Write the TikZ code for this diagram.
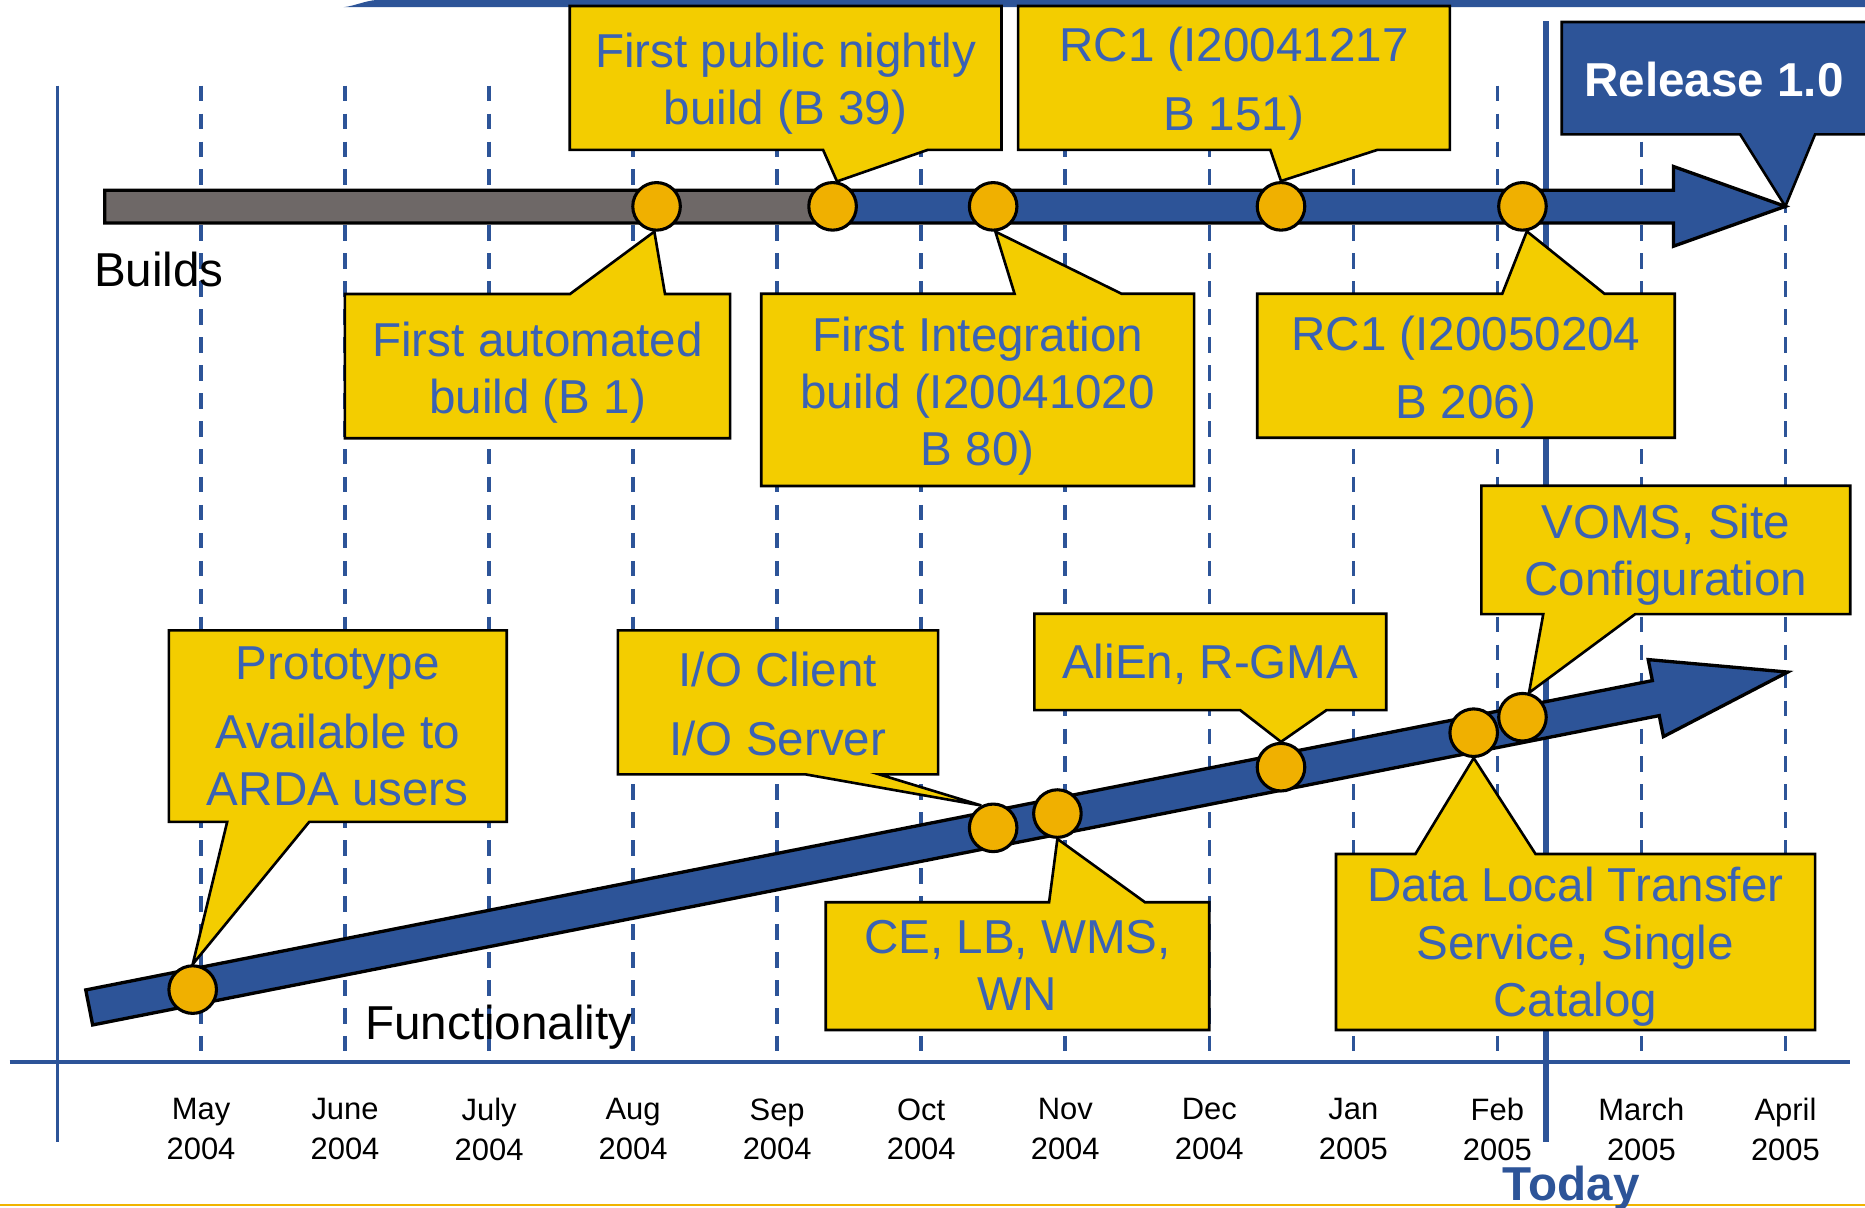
\documentclass[tikz,border=0pt]{standalone}
\usepackage{fontspec}
\setmainfont{Liberation Sans}
\usetikzlibrary{calc}
\pgfdeclarelayer{front}
\pgfsetlayers{main,front}
\definecolor{ablue}{RGB}{45,84,152}
\definecolor{cyel}{RGB}{243,205,0}
\definecolor{corange}{RGB}{240,176,0}
\definecolor{bgray}{RGB}{110,104,103}
\definecolor{tblue}{RGB}{58,98,180}
\definecolor{lineyel}{RGB}{240,180,0}
\begin{document}
\begin{tikzpicture}[x=1pt,y=-1pt,
  gridline/.style={ablue, line width=3pt, dash pattern=on 13pt off 10.5pt},
  callout/.style={fill=cyel, draw=black, line width=2.2pt, line join=miter},
  bluecallout/.style={fill=ablue, draw=black, line width=2.2pt, line join=miter},
  ctext/.style={text=tblue, font=\fontsize{40}{48}\selectfont, align=center, inner sep=0pt},
  dot/.style={circle, fill=corange, draw=black, line width=2.6pt, minimum size=40pt, inner sep=0pt},
  month/.style={font=\fontsize{26}{33.5}\selectfont, align=center, inner sep=0pt},
  bar/.style={draw=black, line width=2.8pt, line join=miter},
  axisline/.style={ablue, line width=2.5pt},
  plain/.style={font=\fontsize{40}{48}\selectfont, inner sep=0pt, anchor=base west},
]
\useasboundingbox (0,0) rectangle (1568,1015);

% ---------- front layer: milestone dots and texts ----------
\begin{pgfonlayer}{front}
\node[dot] (b1) at (552,173.5) {};
\node[dot] (b2) at (700,173.5) {};
\node[dot] (b3) at (835,173.5) {};
\node[dot] (b4) at (1077,173.5) {};
\node[dot] (b5) at (1280,173.5) {};
\node[dot] (f1) at (162,832) {};
\node[dot] (f2) at (835,696) {};
\node[dot] (f3) at (889,684) {};
\node[dot] (f4) at (1077,645) {};
\node[dot] (f5) at (1239,616) {};
\node[dot] (f6) at (1280,603) {};

\node[ctext] (t1) at (660.5,70.6) {First public nightly\\build (B 39)};
\node[ctext] (t2) at (1037.5,70.6) {RC1 (I20041217\\[10pt]B 151)};
\node[font=\bfseries\fontsize{40}{48}\selectfont, text=white, inner sep=0pt] (t3) at (1441,66.9) {Release 1.0};
\node[ctext] (t4) at (452,313) {First automated\\build (B 1)};
\node[ctext] (t5) at (822,333) {First Integration\\build (I20041020\\B 80)};
\node[ctext] (t6) at (1232.5,313) {RC1 (I20050204\\[9pt]B 206)};
\node[ctext] (t7) at (284,611) {Prototype\\[10pt]Available to\\ARDA users};
\node[ctext] (t8) at (654,591.6) {I/O Client\\[10pt]I/O Server};
\node[ctext] (t9) at (1017.5,558.4) {AliEn, R-GMA};
\node[ctext] (t10) at (1400.5,466.7) {VOMS, Site\\Configuration};
\node[ctext] (t11) at (855.5,811.8) {CE, LB, WMS,\\WN};
\node[ctext] (t12) at (1324.5,796) {Data Local Transfer\\Service, Single\\Catalog};

\node[plain] (builds) at (79,241) {Builds};
\node[plain] (func) at (307,874) {Functionality};
\node[font=\bfseries\fontsize{40}{48}\selectfont, text=ablue, inner sep=0pt, anchor=base] (today) at (1321,1009.6) {Today};

\foreach \i/\m/\yr in {0/May/2004,1/June/2004,2/July/2004,3/Aug/2004,4/Sep/2004,5/Oct/2004,6/Nov/2004,7/Dec/2004,8/Jan/2005,9/Feb/2005,10/March/2005,11/April/2005}{
  \node[month] (m\i) at ({169+121.1*\i},949.5) {\m\\\yr};
}
\end{pgfonlayer}

% ---------- background frame ----------
\fill[ablue] (289,6) .. controls (298,5) and (306,1) .. (316,0) -- (1568,0) -- (1568,6) -- cycle;
\draw[lineyel, line width=2pt] (0,1013) -- (1568,1013);

\foreach \i in {0,...,11}{
  \draw[gridline] ({169+121.1*\i},72) -- ({169+121.1*\i},886);
}
\draw[axisline] (48,72) -- (48,960);
\draw[ablue, line width=3.5pt] (8,893) -- (1555,893);
\draw[ablue, line width=5pt] (1300,18) -- (1300,960);

% ---------- builds arrow ----------
\coordinate (btip) at (1501,173.5);
\fill[bgray] (88,160) rectangle (700,187.5);
\fill[ablue] (700,160) -- (1407,160) -- (1407,140) -- (btip) -- (1407,207) -- (1407,187.5) -- (700,187.5) -- cycle;
\draw[bar] (88,160) -- (1407,160) -- (1407,140) -- (btip) -- (1407,207) -- (1407,187.5) -- (88,187.5) -- cycle;

% ---------- functionality arrow ----------
\begin{scope}[shift={(75,847)}, rotate=11.17]
\draw[bar, fill=ablue] (0,-15) -- (1342.6,-15) -- (1342.6,-33) -- (1455.6,0) -- (1342.6,33) -- (1342.6,15) -- (0,15) -- cycle;
\end{scope}

% ---------- callouts ----------
\draw[callout] (479,5) -- (842,5) -- (842,126) -- (780,126) -- (b2.80) -- (692,126) -- (479,126) -- cycle;
\draw[callout] (856,5) -- (1219,5) -- (1219,126) -- (1158,126) -- (b4.north) -- (1068,126) -- (856,126) -- cycle;
\draw[bluecallout] (1313,18.5) -- (1580,18.5) -- (1580,113) -- (1526,113) -- (btip) -- (1463,113) -- (1313,113) -- cycle;
\draw[callout] (290,247.2) -- (479.2,247.2) -- (b1.265) -- (559.1,247.2) -- (613.8,247.2) -- (613.8,368.5) -- (290,368.5) -- cycle;
\draw[callout] (640,247) -- (853,247) -- (b3.275) -- (943,247) -- (1004,247) -- (1004,408.6) -- (640,408.6) -- cycle;
\draw[callout] (1057,247) -- (1263,247) -- (b5.280) -- (1349,247) -- (1408,247) -- (1408,368) -- (1057,368) -- cycle;
\draw[callout] (142,530) -- (426,530) -- (426,691) -- (260,691) -- (f1.north) -- (191,691) -- (142,691) -- cycle;
\draw[callout] (519.5,530) -- (788.7,530) -- (788.7,651) -- (739,651) -- (f2.118) -- (677,651) -- (519.5,651) -- cycle;
\draw[callout] (869.6,516) -- (1165.5,516) -- (1165.5,597) -- (1115.3,597) -- (f4.north) -- (1042.6,597) -- (869.6,597) -- cycle;
\draw[callout] (1245.5,408.4) -- (1555.6,408.4) -- (1555.6,516.3) -- (1374.8,516.3) -- (f6.75) -- (1297.5,516.3) -- (1245.5,516.3) -- cycle;
\draw[callout] (694.2,758.6) -- (882,758.6) -- (f3.south) -- (962.7,758.6) -- (1016.7,758.6) -- (1016.7,866) -- (694.2,866) -- cycle;
\draw[callout] (1123.2,718) -- (1190,718) -- (f5.south) -- (1291,718) -- (1526,718) -- (1526,866) -- (1123.2,866) -- cycle;
\end{tikzpicture}
\end{document}
